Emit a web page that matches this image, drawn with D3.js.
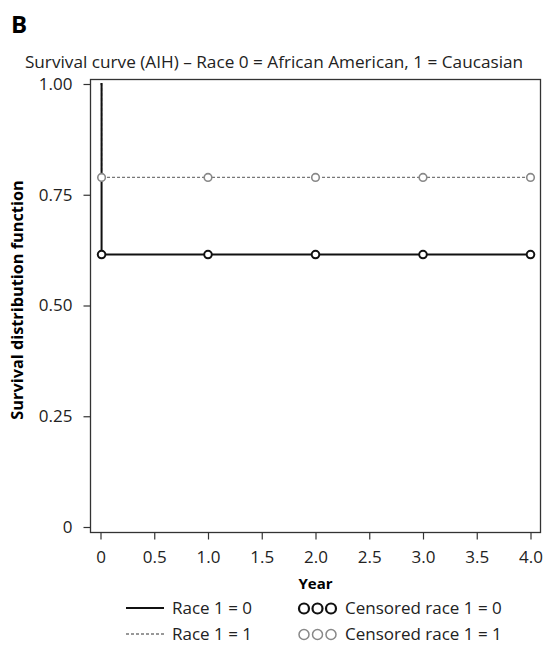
<!DOCTYPE html>
<html>
<head>
<meta charset="utf-8">
<script src="https://cdn.jsdelivr.net/npm/d3@7"></script>
<style>
  body { margin: 0; background: #fff; }
  svg { display: block; font-family: "Open Sans", sans-serif; }
</style>
</head>
<body>
<svg id="chart" width="548" height="645"></svg>
<script>
// data
var race0Times = [0, 0.01, 4.0];
var race0Surv = [1.0, 0.615, 0.615];
var race1Times = [0, 0.01, 4.0];
var race1Surv = [1.0, 0.789, 0.789];
var censorTimes = [0.01, 1, 2, 3, 4];
var xTicks = [0, 0.5, 1.0, 1.5, 2.0, 2.5, 3.0, 3.5, 4.0];
var xTickLabels = ["0", "0.5", "1.0", "1.5", "2.0", "2.5", "3.0", "3.5", "4.0"];
var yTicks = [0, 0.25, 0.5, 0.75, 1.0];
var yTickLabels = ["0", "0.25", "0.50", "0.75", "1.00"];
var legendLines = ["Race 1 = 0", "Race 1 = 1"];
var legendCensor = ["Censored race 1 = 0", "Censored race 1 = 1"];

var svg = d3.select("#chart");

var x = d3.scaleLinear().domain([0, 4]).range([100.5, 530.5]);
var y = d3.scaleLinear().domain([0, 1]).range([527, 84]);

// panel letter + title
svg.append("text").attr("x", 11).attr("y", 33)
  .style("font-size", "24px").style("font-weight", "bold").text("B");
svg.append("text").attr("x", 274).attr("y", 68).attr("text-anchor", "middle")
  .style("font-size", "17.2px").attr("fill", "#222")
  .text("Survival curve (AIH) \u2013 Race 0 = African American, 1 = Caucasian");

// frame
svg.append("rect").attr("x", 90.5).attr("y", 79.5).attr("width", 450).attr("height", 453)
  .attr("fill", "none").attr("stroke", "#333").attr("stroke-width", 1.3);

// axes
var xAxis = d3.axisBottom(x).tickValues(xTicks)
  .tickFormat(function(d, i) { return xTickLabels[i]; }).tickSize(7).tickPadding(11);
var gx = svg.append("g").attr("transform", "translate(0,532.5)").call(xAxis);
var yAxis = d3.axisLeft(y).tickValues(yTicks)
  .tickFormat(function(d, i) { return yTickLabels[i]; }).tickSize(7).tickPadding(11);
var gy = svg.append("g").attr("transform", "translate(90.5,0)").call(yAxis);
[gx, gy].forEach(function(g) {
  g.select(".domain").remove();
  g.selectAll("line").attr("stroke", "#333").attr("stroke-width", 1.2);
  g.selectAll("text").style("font-size", "17px").attr("fill", "#222")
    .style("font-family", "'Open Sans', sans-serif");
});

svg.append("text").attr("x", 315.5).attr("y", 589).attr("text-anchor", "middle")
  .style("font-size", "15px").style("font-weight", "bold").text("Year");
svg.append("text").attr("transform", "translate(23,300) rotate(-90)")
  .attr("text-anchor", "middle").style("font-size", "16.3px").style("font-weight", "bold")
  .text("Survival distribution function");

// curves
var line = d3.line().curve(d3.curveStepAfter)
  .x(function(d) { return x(d[0]); }).y(function(d) { return y(d[1]); });

svg.append("path").datum(d3.zip(race1Times, race1Surv))
  .attr("d", line).attr("fill", "none").attr("stroke", "#777")
  .attr("stroke-width", 1.3).attr("stroke-dasharray", "3,2");
svg.append("path").datum(d3.zip(race0Times, race0Surv))
  .attr("d", line).attr("fill", "none").attr("stroke", "#111").attr("stroke-width", 2);

// censored marks
svg.selectAll(".c1").data(censorTimes).enter().append("circle")
  .attr("cx", function(d) { return x(d); }).attr("cy", y(race1Surv[1])).attr("r", 3.8)
  .attr("fill", "#fff").attr("stroke", "#888").attr("stroke-width", 1.6);
svg.selectAll(".c0").data(censorTimes).enter().append("circle")
  .attr("cx", function(d) { return x(d); }).attr("cy", y(race0Surv[1])).attr("r", 3.8)
  .attr("fill", "#fff").attr("stroke", "#111").attr("stroke-width", 2);

// legend
var lg = svg.append("g");
var rows = [614, 640];
lg.append("line").attr("x1", 126).attr("x2", 164).attr("y1", rows[0] - 6).attr("y2", rows[0] - 6)
  .attr("stroke", "#111").attr("stroke-width", 2);
lg.append("line").attr("x1", 126).attr("x2", 164).attr("y1", rows[1] - 6).attr("y2", rows[1] - 6)
  .attr("stroke", "#777").attr("stroke-width", 1.3).attr("stroke-dasharray", "3,2");
legendLines.forEach(function(t, i) {
  lg.append("text").attr("x", 172).attr("y", rows[i]).style("font-size", "17px")
    .attr("fill", "#222").text(t);
});
[["#111", 2.2], ["#888", 1.5]].forEach(function(s, i) {
  [0, 1, 2].forEach(function(k) {
    lg.append("circle").attr("cx", 304 + k * 13.5).attr("cy", rows[i] - 5.5).attr("r", 5)
      .attr("fill", "none").attr("stroke", s[0]).attr("stroke-width", s[1]);
  });
});
legendCensor.forEach(function(t, i) {
  lg.append("text").attr("x", 345).attr("y", rows[i]).style("font-size", "17px")
    .attr("fill", "#222").text(t);
});
</script>
</body>
</html>
